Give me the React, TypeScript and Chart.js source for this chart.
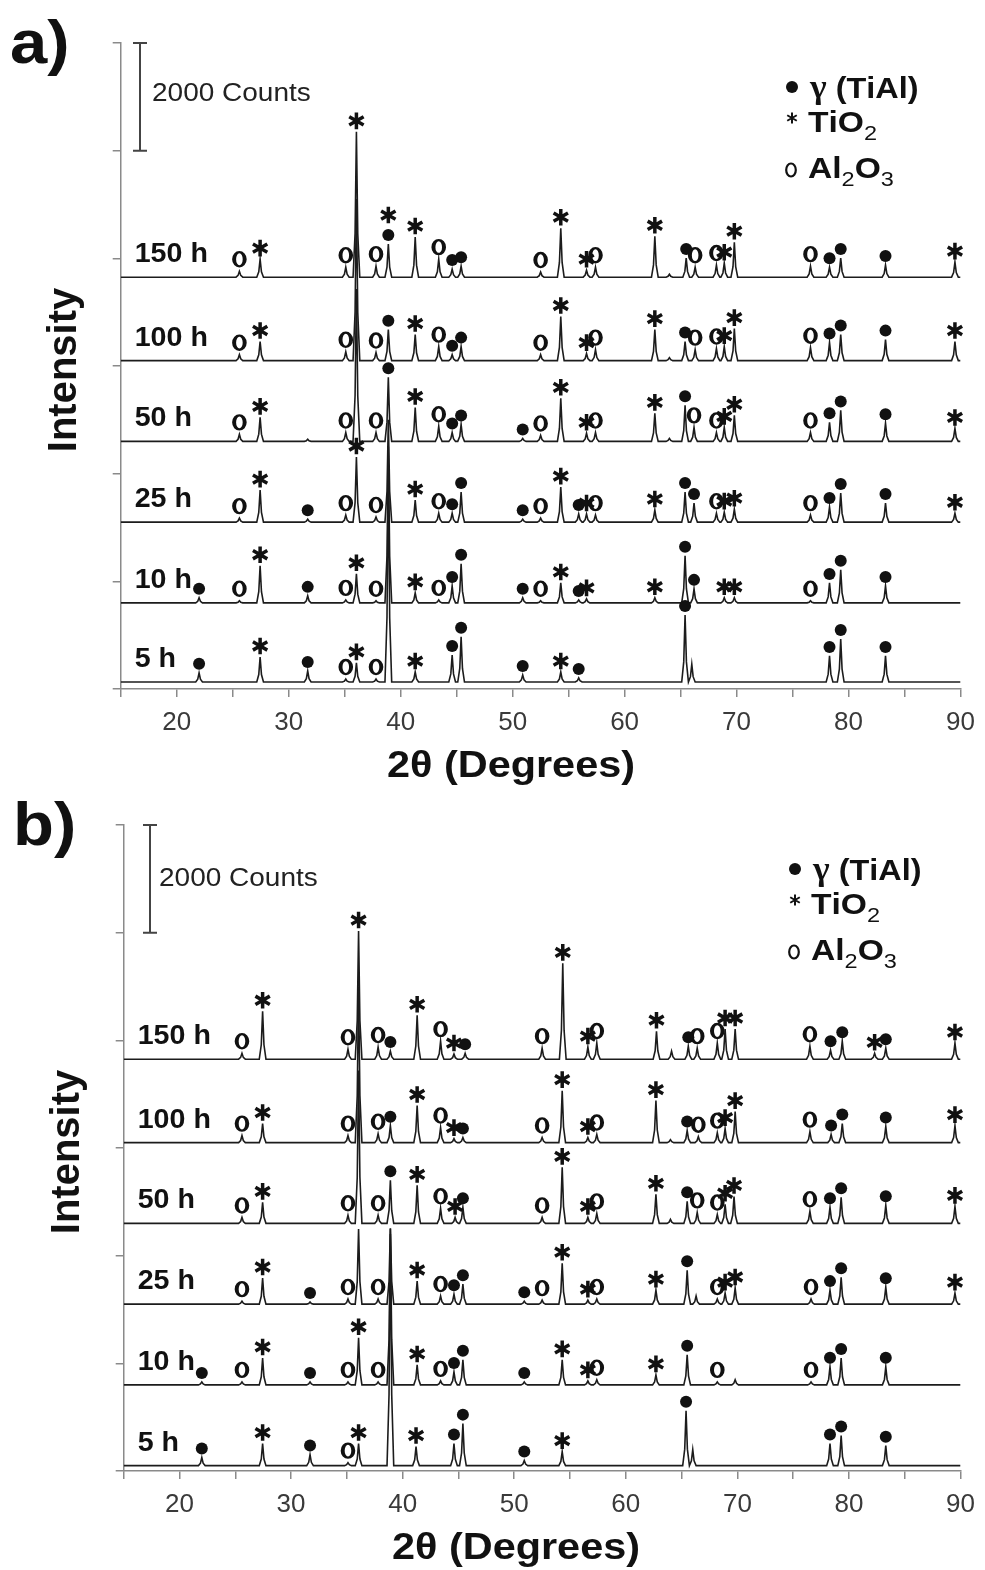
import React, { useEffect, useRef } from 'react';
import { Chart, registerables } from 'chart.js';

Chart.register(...registerables);

type Peak = [number, number, string];

// ---------- data ----------
const TRACE_LABELS = ['5 h', '10 h', '25 h', '50 h', '100 h', '150 h'];
const BASELINES_A = [130, 1600, 3100, 4600, 6100, 7650];
const BASELINES_B = [100, 1600, 3100, 4600, 6100, 7650];
const X_MIN = 15;
const X_MAX = 90;
const Y_MAX = 12000;
const Y_STEP = 2000;
const SCALE_BAR_COUNTS = [10000, 12000];
const LEGEND_ITEMS = ['γ (TiAl)', 'TiO2', 'Al2O3'];

// [2θ, peak height (counts above baseline), phase markers]
const A_5H: Peak[] = [
  [22.0, 170, '●'], [27.45, 465, '*'], [31.7, 205, '●'], [35.1, 55, 'o'], [36.05, 355, '*'],
  [37.8, 55, 'o'], [38.9, 4000, ''], [41.3, 185, '*'], [44.6, 500, '●'], [45.4, 840, '●'],
  [50.9, 130, '●'], [54.3, 185, '*'], [55.9, 75, '●'], [65.4, 1245, '●'], [66.0, 330, ''],
  [78.3, 485, '●'], [79.3, 800, '●'], [83.3, 485, '●'],
];
const A_10H: Peak[] = [
  [22.0, 95, '●'], [25.6, 40, 'o'], [27.45, 690, '*'], [31.7, 130, '●'], [35.1, 55, 'o'],
  [36.05, 540, '*'], [37.8, 40, 'o'], [38.9, 2900, ''], [41.3, 185, '*'], [43.4, 55, 'o'],
  [44.6, 315, '●'], [45.4, 725, '●'], [50.9, 95, '●'], [52.5, 40, 'o'], [54.3, 370, '*'],
  [55.9, 55, '●'], [56.6, 75, '*'], [62.7, 95, '*'], [65.4, 875, '●'], [66.2, 260, '●'],
  [68.9, 95, '*'], [69.8, 95, '*'], [76.6, 40, 'o'], [78.3, 370, '●'], [79.3, 615, '●'],
  [83.3, 315, '●'],
];
const A_25H: Peak[] = [
  [25.6, 75, 'o'], [27.45, 595, '*'], [31.7, 55, '●'], [35.1, 130, 'o'], [36.05, 1210, '*'],
  [37.8, 95, 'o'], [38.9, 1900, ''], [41.3, 410, '*'], [43.4, 165, 'o'], [44.6, 165, '●'],
  [45.4, 560, '●'], [50.9, 55, '●'], [52.5, 75, 'o'], [54.3, 650, '*'], [55.9, 150, '●'],
  [56.6, 150, '*'], [57.4, 130, 'o'], [62.7, 225, '*'], [65.4, 560, '●'], [66.2, 355, '●'],
  [68.2, 165, 'o'], [68.9, 185, '*'], [69.8, 240, '*'], [76.6, 130, 'o'], [78.3, 280, '●'],
  [79.3, 540, '●'], [83.3, 355, '●'], [89.5, 165, '*'],
];
const A_50H: Peak[] = [
  [25.6, 130, 'o'], [27.45, 445, '*'], [31.7, 40, ''], [35.1, 165, 'o'], [36.05, 2830, ''],
  [37.8, 165, 'o'], [38.9, 1190, '●'], [41.3, 630, '*'], [43.4, 280, 'o'], [44.6, 165, '●'],
  [45.4, 315, '●'], [50.9, 55, '●'], [52.5, 110, 'o'], [54.3, 800, '*'], [56.6, 150, '*'],
  [57.4, 165, 'o'], [62.7, 520, '*'], [64.0, 55, ''], [65.4, 670, '●'], [66.2, 260, 'o'],
  [68.2, 165, 'o'], [68.9, 260, '*'], [69.8, 485, '*'], [76.6, 165, 'o'], [78.3, 355, '●'],
  [79.3, 575, '●'], [83.3, 335, '●'], [89.5, 240, '*'],
];
const A_100H: Peak[] = [
  [25.6, 110, 'o'], [27.45, 355, '*'], [35.1, 165, 'o'], [36.05, 3000, ''], [37.8, 150, 'o'],
  [38.9, 575, '●'], [41.3, 485, '*'], [43.4, 260, 'o'], [44.6, 110, '●'], [45.4, 260, '●'],
  [52.5, 110, 'o'], [54.3, 820, '*'], [56.6, 130, '*'], [57.4, 205, 'o'], [62.7, 575, '*'],
  [64.0, 55, ''], [65.4, 355, '●'], [66.3, 205, 'o'], [68.2, 225, 'o'], [68.9, 260, '*'],
  [69.8, 595, '*'], [76.6, 240, 'o'], [78.3, 335, '●'], [79.3, 485, '●'], [83.3, 390, '●'],
  [89.5, 355, '*'],
];
const A_150H: Peak[] = [
  [25.6, 110, 'o'], [27.45, 335, '*'], [35.1, 185, 'o'], [36.05, 2700, '*'], [37.8, 205, 'o'],
  [38.9, 615, '●*'], [41.3, 745, '*'], [43.4, 335, 'o'], [44.6, 150, '●'], [45.4, 205, '●'],
  [52.5, 95, 'o'], [54.3, 910, '*'], [56.6, 130, '*'], [57.4, 185, 'o'], [62.7, 760, '*'],
  [64.0, 55, ''], [65.5, 355, '●'], [66.3, 185, 'o'], [68.2, 225, 'o'], [68.9, 260, '*'],
  [69.8, 650, '*'], [76.6, 205, 'o'], [78.3, 185, '●'], [79.3, 355, '●'], [83.3, 225, '●'],
  [89.5, 280, '*'],
];

const B_5H: Peak[] = [
  [22.0, 150, '●'], [27.45, 410, '*'], [31.7, 205, '●'], [35.1, 55, 'o'], [36.05, 410, '*'],
  [38.9, 4400, ''], [41.2, 355, '*'], [44.6, 410, '●'], [45.4, 780, '●'], [50.9, 95, '●'],
  [54.3, 260, '*'], [65.4, 1020, '●'], [66.0, 300, ''], [78.3, 410, '●'], [79.3, 560, '●'],
  [83.3, 370, '●'],
];
const B_10H: Peak[] = [
  [22.0, 55, '●'], [25.6, 55, 'o'], [27.45, 500, '*'], [31.7, 55, '●'], [35.1, 55, 'o'],
  [36.05, 875, '*'], [37.8, 55, 'o'], [38.9, 2800, ''], [41.3, 370, '*'], [43.4, 75, 'o'],
  [44.6, 240, '●'], [45.4, 465, '●'], [50.9, 55, '●'], [54.3, 465, '*'], [56.6, 75, '*'],
  [57.4, 95, 'o'], [62.7, 185, '*'], [65.5, 560, '●'], [68.2, 55, 'o'], [69.8, 95, ''],
  [76.6, 55, 'o'], [78.3, 335, '●'], [79.3, 500, '●'], [83.3, 335, '●'],
];
const B_25H: Peak[] = [
  [25.6, 55, 'o'], [27.45, 485, '*'], [31.7, 40, '●'], [35.1, 95, 'o'], [36.05, 1395, ''],
  [37.8, 95, 'o'], [38.9, 1410, ''], [41.3, 430, '*'], [43.4, 150, 'o'], [44.6, 185, '●'],
  [45.4, 370, '●'], [50.9, 55, '●'], [52.5, 75, 'o'], [54.3, 760, '*'], [56.6, 75, '*'],
  [57.4, 95, 'o'], [62.7, 260, '*'], [65.5, 630, '●'], [66.3, 150, ''], [68.2, 95, 'o'],
  [68.9, 205, '*'], [69.8, 300, '*'], [76.6, 95, 'o'], [78.3, 260, '●'], [79.3, 500, '●'],
  [83.3, 315, '●'], [89.5, 205, '*'],
];
const B_50H: Peak[] = [
  [25.6, 110, 'o'], [27.45, 390, '*'], [35.1, 150, 'o'], [36.05, 2840, ''], [37.8, 150, 'o'],
  [38.9, 800, '●'], [41.3, 705, '*'], [43.4, 280, 'o'], [44.7, 110, '*'], [45.4, 300, '●'],
  [52.5, 110, 'o'], [54.3, 1040, '*'], [56.6, 110, '*'], [57.4, 185, 'o'], [62.7, 540, '*'],
  [64.0, 75, ''], [65.5, 410, '●'], [66.4, 205, 'o'], [68.2, 165, 'o'], [68.9, 355, '*'],
  [69.7, 500, '*'], [76.5, 225, 'o'], [78.3, 300, '●'], [79.3, 485, '●'], [83.3, 335, '●'],
  [89.5, 315, '*'],
];
const B_100H: Peak[] = [
  [25.6, 130, 'o'], [27.45, 355, '*'], [35.1, 130, 'o'], [36.05, 2900, ''], [37.8, 165, 'o'],
  [38.9, 315, '●'], [41.3, 690, '*'], [43.4, 280, 'o'], [44.6, 75, '*'], [45.4, 95, '●'],
  [52.5, 95, 'o'], [54.3, 965, '*'], [56.6, 95, '*'], [57.4, 150, 'o'], [62.7, 780, '*'],
  [64.0, 55, ''], [65.5, 225, '●'], [66.5, 110, 'o'], [68.2, 185, 'o'], [68.9, 260, '*'],
  [69.8, 575, '*'], [76.5, 205, 'o'], [78.4, 150, '●'], [79.4, 355, '●'], [83.3, 300, '●'],
  [89.5, 315, '*'],
];
const B_150H: Peak[] = [
  [25.6, 110, 'o'], [27.45, 890, '*'], [35.1, 185, 'o'], [36.05, 2380, '*'], [37.8, 225, 'o'],
  [38.9, 150, '●'], [41.3, 815, '*'], [43.4, 335, 'o'], [44.6, 95, '*'], [45.6, 110, '●'],
  [52.5, 205, 'o'], [54.35, 1780, '*'], [56.6, 225, '*'], [57.4, 300, 'o'], [62.75, 520, '*'],
  [64.1, 150, ''], [65.6, 240, '●'], [66.4, 205, 'o'], [68.2, 300, 'o'], [68.9, 560, '*'],
  [69.8, 560, '*'], [76.5, 240, 'o'], [78.35, 165, '●'], [79.4, 335, '●'], [82.3, 110, '*'],
  [83.3, 205, '●'], [89.5, 300, '*'],
];

const TRACES_A = [A_5H, A_10H, A_25H, A_50H, A_100H, A_150H];
const TRACES_B = [B_5H, B_10H, B_25H, B_50H, B_100H, B_150H];

// ---------- drawing helpers ----------
const SANS = '"Liberation Sans", Arial, Helvetica, sans-serif';
const SERIF = '"Liberation Serif", "Times New Roman", serif';
const INK = '#111111';

function tracePoints(peaks: Peak[], base: number) {
  const pts: { x: number; y: number }[] = [{ x: X_MIN, y: base }];
  peaks.forEach(([d, h]) => {
    pts.push(
      { x: d - 0.3, y: base },
      { x: d - 0.12, y: base + h * 0.3 },
      { x: d, y: base + h },
      { x: d + 0.12, y: base + h * 0.3 },
      { x: d + 0.3, y: base },
    );
  });
  pts.push({ x: X_MAX, y: base });
  pts.sort((a, b) => a.x - b.x);
  return pts;
}

function drawText(ctx: CanvasRenderingContext2D, text: string, x: number, y: number, font: string, align: CanvasTextAlign = 'left', sx = 1) {
  ctx.save();
  ctx.translate(x, y);
  ctx.scale(sx, 1);
  ctx.font = font;
  ctx.textAlign = align;
  ctx.textBaseline = 'alphabetic';
  ctx.fillText(text, 0, 0);
  ctx.restore();
}

function drawStar(ctx: CanvasRenderingContext2D, x: number, y: number, r: number, lw: number) {
  ctx.save();
  ctx.lineWidth = lw;
  ctx.lineCap = 'butt';
  ctx.beginPath();
  [90, 30, 150].forEach((a) => {
    const t = (a * Math.PI) / 180;
    ctx.moveTo(x - r * Math.cos(t), y - r * Math.sin(t));
    ctx.lineTo(x + r * Math.cos(t), y + r * Math.sin(t));
  });
  ctx.stroke();
  ctx.restore();
}

function drawDot(ctx: CanvasRenderingContext2D, x: number, y: number, r: number) {
  ctx.beginPath();
  ctx.arc(x, y, r, 0, Math.PI * 2);
  ctx.fill();
}

function drawO(ctx: CanvasRenderingContext2D, x: number, y: number, rx: number, ry: number, irx: number, iry: number) {
  ctx.beginPath();
  ctx.ellipse(x, y, rx, ry, 0, 0, Math.PI * 2);
  ctx.moveTo(x + irx, y);
  ctx.ellipse(x, y, irx, iry, 0, 0, Math.PI * 2);
  ctx.fill('evenodd');
}

function drawRich(ctx: CanvasRenderingContext2D, x: number, y: number, text: string, sx: number) {
  // digits in chemical formulas are subscripts; Greek letters use a serif face
  let cx = x;
  for (const ch of text) {
    const sub = /[0-9]/.test(ch);
    const greek = /[α-ω]/.test(ch);
    const font = sub ? `21px ${SANS}` : greek ? `bold 33px ${SERIF}` : `bold 30px ${SANS}`;
    ctx.font = font;
    const w = ctx.measureText(ch).width * sx;
    drawText(ctx, ch, cx, sub ? y + 8 : y, font, 'left', sx);
    cx += w;
  }
}

type PanelCfg = {
  key: string;
  label: string;
  left: number;
  top: number;
  width: number;
  padRight: number;
  traces: Peak[][];
  bases: number[];
  barX: number;
  barTextX: number;
  barTextY: number;
  xTitleX: number;
};

function makePlugin(cfg: PanelCfg) {
  return {
    id: 'xrd_' + cfg.key,
    afterDatasetsDraw(chart: any) {
      const ctx: CanvasRenderingContext2D = chart.ctx;
      const xs = chart.scales.x;
      const ys = chart.scales.y;
      ctx.save();
      ctx.fillStyle = INK;
      ctx.strokeStyle = INK;

      // phase markers
      cfg.traces.forEach((peaks, i) => {
        const base = cfg.bases[i];
        peaks.forEach(([d, h, sym]) => {
          if (!sym) return;
          const px = xs.getPixelForValue(d);
          const top = ys.getPixelForValue(base + h);
          let cy = 0;
          [...sym].forEach((s, k) => {
            const gap = s === '●' ? 9 : s === '*' ? 11 : 12;
            cy = k === 0 ? top - gap : cy - 20;
            if (s === '●') drawDot(ctx, px, cy, 6);
            else if (s === '*') drawStar(ctx, px, cy, 8.3, 3.5);
            else drawO(ctx, px, cy, 7.3, 8.2, 3.3, 5.9);
          });
        });
        // trace label
        const by = ys.getPixelForValue(base);
        drawText(ctx, TRACE_LABELS[i], chart.chartArea.left + 14, by - 15, `bold 27px ${SANS}`, 'left', 1.06);
      });

      // scale bar
      const y1 = ys.getPixelForValue(SCALE_BAR_COUNTS[0]);
      const y2 = ys.getPixelForValue(SCALE_BAR_COUNTS[1]);
      ctx.strokeStyle = '#444';
      ctx.lineWidth = 2;
      ctx.beginPath();
      ctx.moveTo(cfg.barX, y1);
      ctx.lineTo(cfg.barX, y2);
      ctx.moveTo(cfg.barX - 7, y1);
      ctx.lineTo(cfg.barX + 7, y1);
      ctx.moveTo(cfg.barX - 7, y2);
      ctx.lineTo(cfg.barX + 7, y2);
      ctx.stroke();
      ctx.fillStyle = '#222';
      drawText(ctx, '2000 Counts', cfg.barTextX, cfg.barTextY, `25px ${SANS}`, 'left', 1.12);

      // legend
      ctx.fillStyle = INK;
      ctx.strokeStyle = INK;
      drawDot(ctx, 792, 87, 6);
      drawRich(ctx, 810, 98, LEGEND_ITEMS[0], 1.08);
      drawStar(ctx, 792, 118, 5.5, 2);
      drawRich(ctx, 808, 132, LEGEND_ITEMS[1], 1.12);
      ctx.lineWidth = 2.2;
      ctx.beginPath();
      ctx.ellipse(791, 170, 4.8, 6.5, 0, 0, Math.PI * 2);
      ctx.stroke();
      drawRich(ctx, 808, 178, LEGEND_ITEMS[2], 1.12);

      // panel label and axis titles
      drawText(ctx, cfg.label, 10, 63, `bold 62px ${SANS}`, 'left', 1.08);
      drawText(ctx, '2θ (Degrees)', cfg.xTitleX, 777, `bold 37px ${SANS}`, 'center', 1.12);
      ctx.save();
      ctx.translate(65, 370);
      ctx.rotate(-Math.PI / 2);
      ctx.font = `bold 40px ${SANS}`;
      ctx.textAlign = 'center';
      ctx.textBaseline = 'middle';
      ctx.fillText('Intensity', 0, 0);
      ctx.restore();

      ctx.restore();
    },
  };
}

function Panel({ cfg }: { cfg: PanelCfg }) {
  const ref = useRef<HTMLCanvasElement>(null);
  useEffect(() => {
    const canvas = ref.current!;
    const chart = new Chart(canvas, {
      type: 'line',
      data: {
        datasets: cfg.traces.map((p, i) => ({
          label: TRACE_LABELS[i],
          data: tracePoints(p, cfg.bases[i]),
          borderColor: '#1c1c1c',
          borderWidth: 1.6,
          pointRadius: 0,
          tension: 0,
          fill: false,
        })),
      },
      options: {
        animation: false,
        responsive: false,
        devicePixelRatio: 1,
        events: [],
        layout: { padding: { left: 0, right: cfg.padRight, top: 43, bottom: 0 } },
        plugins: { legend: { display: false }, tooltip: { enabled: false }, title: { display: false } },
        scales: {
          x: {
            type: 'linear',
            min: X_MIN,
            max: X_MAX,
            afterFit: (s: any) => { s.height = 96; },
            ticks: {
              stepSize: 5,
              autoSkip: false,
              maxRotation: 0,
              padding: 10,
              color: '#3a3a3a',
              font: { family: SANS, size: 26 },
              callback: (v: any) => (Number(v) % 10 === 0 ? String(v) : ''),
            },
            grid: { drawOnChartArea: false, drawTicks: true, tickLength: 8, color: '#8a8a8a', lineWidth: 1.5 },
            border: { display: true, color: '#8a8a8a', width: 1.5 },
          },
          y: {
            type: 'linear',
            min: 0,
            max: Y_MAX,
            afterFit: (s: any) => { s.width = 120.7; },
            ticks: { stepSize: Y_STEP, display: false },
            grid: { drawOnChartArea: false, drawTicks: true, tickLength: 8, color: '#8a8a8a', lineWidth: 1.5 },
            border: { display: true, color: '#8a8a8a', width: 1.5 },
          },
        },
      },
      plugins: [makePlugin(cfg)],
    } as any);
    return () => chart.destroy();
  }, []);
  return (
    <canvas
      ref={ref}
      width={cfg.width}
      height={785}
      style={{ position: 'absolute', left: cfg.left, top: cfg.top, width: cfg.width, height: 785 }}
    />
  );
}

const PANEL_A: PanelCfg = {
  key: 'a', label: 'a)', left: 0, top: 0, width: 985, padRight: 22.5,
  traces: TRACES_A, bases: BASELINES_A, barX: 140, barTextX: 152, barTextY: 101, xTitleX: 511,
};
const PANEL_B: PanelCfg = {
  key: 'b', label: 'b)', left: 3, top: 782, width: 982, padRight: 19.5,
  traces: TRACES_B, bases: BASELINES_B, barX: 147, barTextX: 156, barTextY: 104, xTitleX: 513,
};

export default function App() {
  return (
    <div style={{ position: 'absolute', left: 0, top: 0, width: 985, height: 1570, overflow: 'hidden', background: '#fff' }}>
      <Panel cfg={PANEL_A} />
      <Panel cfg={PANEL_B} />
    </div>
  );
}
